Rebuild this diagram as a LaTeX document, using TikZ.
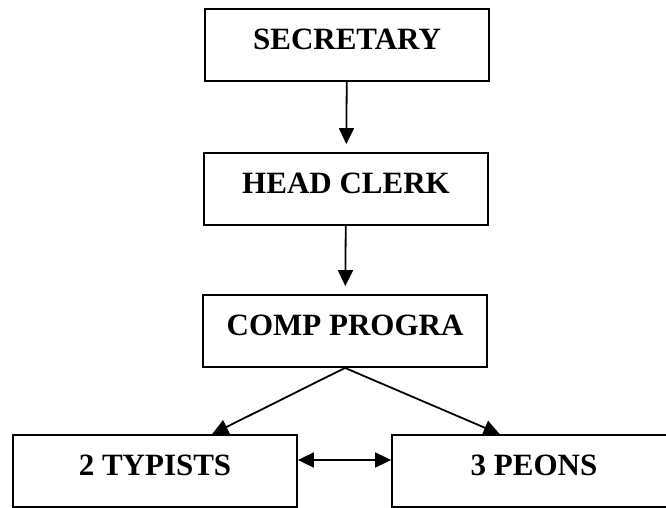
\documentclass[tikz,border=0pt]{standalone}
\usepackage{fontspec}
\setmainfont{Liberation Serif}
\usetikzlibrary{arrows.meta,calc}

\begin{document}
\begin{tikzpicture}[x=1pt,y=-1pt,
  post/.style={draw=black, line width=1.8pt, rectangle,
    minimum width=284pt, minimum height=72pt, inner sep=0pt,
    font=\fontsize{31}{31}\selectfont\bfseries,
    text height=20.5pt, text depth=12pt},
  link/.style={draw=black, line width=1.8pt,
    -{Triangle[length=16pt,width=15pt]}},
  biway/.style={draw=black, line width=1.8pt,
    {Triangle[length=16pt,width=15pt]}-{Triangle[length=16pt,width=15pt]}}
]
  % page frame
  \clip (0,0) rectangle (666,508);

  % staff positions
  \node[post] (sec)  at (347,45)  {SECRETARY};
  \node[post] (head) at (346,189) {HEAD CLERK};
  \node[post] (comp) at (345,331) {COMP PROGRA};
  \node[post] (typ)  at (155,471) {2 TYPISTS};
  \node[post] (peon) at (534,471) {3 PEONS};

  % chain of command
  \draw[link, shorten >=8pt] (sec) -- (head);
  \draw[link, shorten >=8pt] (head) -- (comp);
  \draw[link] (comp.south) -- ($(typ.north west)!0.70!(typ.north east)$);
  \draw[link] (comp.south) -- ($(peon.north west)!0.38!(peon.north east)$);

  % link between the two groups
  \coordinate (tr) at ([yshift=11pt]typ.east);
  \draw[biway] (tr) -- (tr -| peon.west);
\end{tikzpicture}
\end{document}
